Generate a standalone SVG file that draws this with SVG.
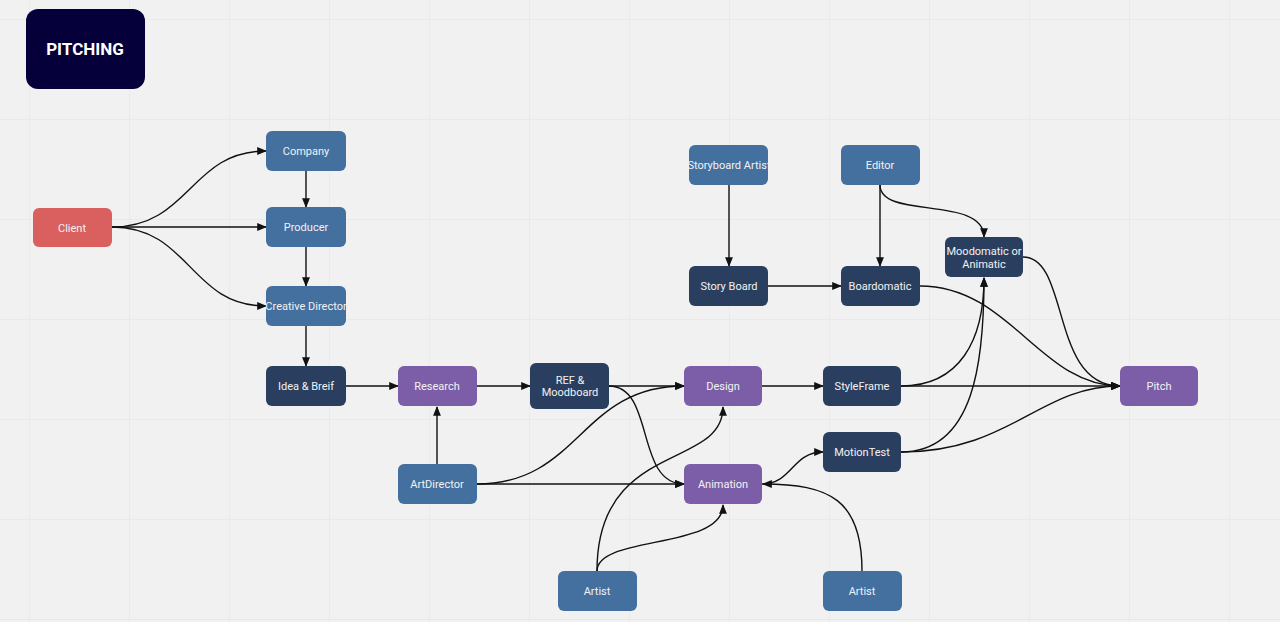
<svg xmlns="http://www.w3.org/2000/svg" width="1280" height="622" viewBox="0 0 1280 622">
<defs>
<pattern id="grid" width="100" height="100" patternUnits="userSpaceOnUse" x="30" y="20"><path d="M100 0V100M0 100H100" fill="none" stroke="#e3e3e3" stroke-width="1"/></pattern>
<marker id="a" viewBox="0 0 10 10" refX="9" refY="5" markerWidth="7" markerHeight="7" orient="auto-start-reverse"><path d="M0 1L10 5L0 9z" fill="#111"/></marker>
<style>
.n rect{rx:6;ry:6}
.lb{fill:#44709f}.dk{fill:#2a3f5f}.pu{fill:#7b5ea7}.rd{fill:#d9605f}
text{font-family:Roboto,"Liberation Sans",sans-serif;font-size:11px;fill:#f2f2f2;text-anchor:middle;dominant-baseline:central}
#edges path{fill:none;stroke:#111;stroke-width:1.4;marker-end:url(#a)}
</style>
</defs>
<rect width="1280" height="622" fill="#f1f1f1"/>
<rect width="1280" height="622" fill="url(#grid)"/>
<g id="title"><rect x="26" y="9" width="119" height="80" rx="12" fill="#05003a"/><text x="85" y="49" style="font-size:17px;font-weight:bold;fill:#fff">PITCHING</text></g>
<g id="edges">
<path d="M112 227C190 227 190 151 266 151"/>
<path d="M112 227H266"/>
<path d="M112 227C190 227 190 306 266 306"/>
<path d="M306 171V207"/>
<path d="M306 247V286"/>
<path d="M306 326V366"/>
<path d="M346 386H398"/>
<path d="M477 386H530"/>
<path d="M609 386H684"/>
<path d="M609 386C655 386 635 484 684 484"/>
<path d="M437 464V407"/>
<path d="M477 484C580 484 580 386 684 386"/>
<path d="M477 484H684"/>
<path d="M597 571C597 440 723 470 723 407"/>
<path d="M597 571C597 535 723 550 723 505"/>
<path d="M862 571C862 500 830 484 763 484"/>
<path d="M762 484C792 484 792 452 823 452"/>
<path d="M762 386H823"/>
<path d="M901 386H1120"/>
<path d="M901 386C960 386 984 340 984 278"/>
<path d="M901 452C975 452 984 360 984 278"/>
<path d="M901 452C1010 452 1040 386 1120 386"/>
<path d="M920 286C1010 286 1040 386 1120 386"/>
<path d="M1023 257C1070 257 1050 386 1120 386"/>
<path d="M880 185V266"/>
<path d="M880 185C880 220 984 195 984 237"/>
<path d="M729 185V266"/>
<path d="M768 286H841"/>
</g>
<g class="n" id="client"><rect class="rd" x="33" y="208" width="79" height="39"/><text x="72" y="228">Client</text></g>
<g class="n" id="company"><rect class="lb" x="266" y="131" width="80" height="40"/><text x="306" y="151">Company</text></g>
<g class="n" id="producer"><rect class="lb" x="266" y="207" width="80" height="40"/><text x="306" y="227">Producer</text></g>
<g class="n" id="creative"><rect class="lb" x="266" y="286" width="80" height="40"/><text x="306" y="306">Creative Director</text></g>
<g class="n" id="idea"><rect class="dk" x="266" y="366" width="80" height="40"/><text x="306" y="386">Idea &amp; Breif</text></g>
<g class="n" id="research"><rect class="pu" x="398" y="366" width="79" height="40"/><text x="437" y="386">Research</text></g>
<g class="n" id="ref"><rect class="dk" x="530" y="363" width="79" height="46"/><text x="570" y="380">REF &amp;</text><text x="570" y="392">Moodboard</text></g>
<g class="n" id="design"><rect class="pu" x="684" y="366" width="78" height="40"/><text x="723" y="386">Design</text></g>
<g class="n" id="styleframe"><rect class="dk" x="823" y="366" width="78" height="40"/><text x="862" y="386">StyleFrame</text></g>
<g class="n" id="pitch"><rect class="pu" x="1120" y="366" width="78" height="40"/><text x="1159" y="386">Pitch</text></g>
<g class="n" id="artdirector"><rect class="lb" x="398" y="464" width="79" height="40"/><text x="437" y="484">ArtDirector</text></g>
<g class="n" id="animation"><rect class="pu" x="684" y="464" width="78" height="40"/><text x="723" y="484">Animation</text></g>
<g class="n" id="motiontest"><rect class="dk" x="823" y="432" width="78" height="40"/><text x="862" y="452">MotionTest</text></g>
<g class="n" id="artist1"><rect class="lb" x="558" y="571" width="79" height="40"/><text x="597" y="591">Artist</text></g>
<g class="n" id="artist2"><rect class="lb" x="823" y="571" width="79" height="40"/><text x="862" y="591">Artist</text></g>
<g class="n" id="sbartist"><rect class="lb" x="689" y="145" width="79" height="40"/><text x="729" y="165">Storyboard Artist</text></g>
<g class="n" id="storyboard"><rect class="dk" x="689" y="266" width="79" height="40"/><text x="729" y="286">Story Board</text></g>
<g class="n" id="editor"><rect class="lb" x="841" y="145" width="79" height="40"/><text x="880" y="165">Editor</text></g>
<g class="n" id="boardomatic"><rect class="dk" x="841" y="266" width="79" height="40"/><text x="880" y="286">Boardomatic</text></g>
<g class="n" id="moodomatic"><rect class="dk" x="945" y="237" width="78" height="40"/><text x="984" y="251">Moodomatic or</text><text x="984" y="264">Animatic</text></g>
</svg>
